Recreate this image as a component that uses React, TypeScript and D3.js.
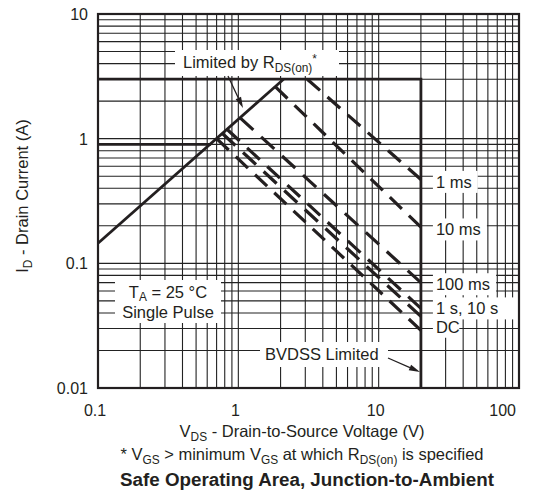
import React from 'react';
import * as d3 from 'd3';

const W = 537;
const H = 495;

const xTicks = [0.1, 1, 10, 100];
const xTickLabels = ['0.1', '1', '10', '100'];
const yTicks = [0.01, 0.1, 1, 10];
const yTickLabels = ['0.01', '0.1', '1', '10'];

// R_DS(on) limit line
const rdsV = [0.1, 2.1];
const rdsI = [0.145, 3.0];
// max current / BVDSS outline
const outlineV = [0.1, 20, 20];
const outlineI = [3, 3, 0.01];
// continuous current
const contV = [0.1, 0.64];
const contI = [0.9, 0.9];

// single pulse curves (start on the Rds line, end at BVDSS)
const pulseNames = ['1 ms', '10 ms', '100 ms', '1 s', '10 s', 'DC'];
const pulseStartV = [3.1, 1.84, 1.03, 0.83, 0.77, 0.7];
const pulseStartI = [3.0, 2.6, 1.47, 1.19, 1.1, 1.0];
const pulseEndV = [20, 20, 20, 20, 20, 20];
const pulseEndI = [0.47, 0.195, 0.07, 0.0435, 0.0375, 0.029];

const curveLabels = ['1 ms', '10 ms', '100 ms', '1 s, 10 s', 'DC'];
const curveLabelI = [0.45, 0.187, 0.068, 0.0435, 0.031];

const FONT = '"Liberation Sans", Arial, Helvetica, sans-serif';
const INK = '#231f20';

const x = d3.scaleLog().domain([0.1, 100]).range([98, 519]);
const y = d3.scaleLog().domain([0.01, 10]).range([388, 14]);
const line = d3.line<[number, number]>().x(d => x(d[0])).y(d => y(d[1]));

const zip = (a: number[], b: number[]) => a.map((v, i) => [v, b[i]] as [number, number]);

const gridVals = (lo: number, hi: number) => {
  const out: number[] = [];
  for (let d = lo; d < hi * 0.999; d *= 10) {
    for (let m = 1; m <= 9; m++) out.push(d * m);
  }
  out.push(hi);
  return out;
};

// stretch the dash pattern so each curve starts and ends on a dash
const fitDash = (len: number, dash = 17, gap = 10) => {
  const n = Math.max(1, Math.round((len + gap) / (dash + gap)));
  const k = len / (n * dash + (n - 1) * gap);
  return `${dash * k},${gap * k}`;
};

const Sub = ({ children }: { children: string }) => (
  <tspan fontSize="0.72em" dy="4">{children}</tspan>
);

const Arrow = ({ x1, y1, x2, y2 }: { x1: number; y1: number; x2: number; y2: number }) => {
  const a = Math.atan2(y2 - y1, x2 - x1);
  const L = 11, hw = 3;
  const bx = x2 - L * Math.cos(a), by = y2 - L * Math.sin(a);
  const p = `${x2},${y2} ${bx + hw * Math.sin(a)},${by - hw * Math.cos(a)} ${bx - hw * Math.sin(a)},${by + hw * Math.cos(a)}`;
  return (
    <g>
      <line x1={x1} y1={y1} x2={bx} y2={by} stroke={INK} strokeWidth={1.3} />
      <polygon points={p} fill={INK} />
    </g>
  );
};

export default function App() {
  const xs = gridVals(0.1, 100);
  const ys = gridVals(0.01, 10);
  const [x0, x1] = x.range();
  const [y0, y1] = y.range();
  const labelX = x(20) + 15;

  return (
    <svg width={W} height={H} style={{ position: 'absolute', left: 0, top: 0, background: '#fff' }}
      fontFamily={FONT} fill={INK}>
      {/* grid */}
      <g stroke="#222" strokeWidth={1.1}>
        {xs.map((v, i) => <line key={'gx' + i} x1={x(v)} x2={x(v)} y1={y1} y2={y0} />)}
        {ys.map((v, i) => <line key={'gy' + i} x1={x0} x2={x1} y1={y(v)} y2={y(v)} />)}
      </g>

      {/* white label backgrounds */}
      <g fill="#fff">
        <rect x={175} y={50} width={164} height={26} />
        <rect x={115} y={280} width={106} height={43} />
        <rect x={260} y={342} width={128} height={25} />
        {curveLabels.map((t, i) => (
          <rect key={'lb' + i} x={labelX - 3} y={y(curveLabelI[i]) - 11}
            width={t.length * 9.2 + 8} height={22} />
        ))}
      </g>

      <rect x={x0} y={y1} width={x1 - x0} height={y0 - y1} fill="none" stroke={INK} strokeWidth={2.2} />

      {/* limit lines */}
      <g fill="none" stroke={INK} strokeWidth={2.8}>
        <path d={line(zip(rdsV, rdsI)) || ''} />
        <path d={line(zip(outlineV, outlineI)) || ''} />
        <path d={line(zip(contV, contI)) || ''} />
      </g>
      <g fill="none" stroke={INK} strokeWidth={3.2}>
        {pulseNames.map((n, i) => {
          const len = Math.hypot(x(pulseEndV[i]) - x(pulseStartV[i]), y(pulseEndI[i]) - y(pulseStartI[i]));
          return (
            <path key={n} strokeDasharray={fitDash(len)}
              d={line([[pulseStartV[i], pulseStartI[i]], [pulseEndV[i], pulseEndI[i]]]) || ''} />
          );
        })}
      </g>

      <Arrow x1={228} y1={76} x2={243} y2={108} />
      <Arrow x1={388} y1={358} x2={420} y2={372} />

      {/* annotations */}
      <g fontSize={16.5}>
        <text x={183} y={68}>Limited by R<Sub>DS(on)</Sub><tspan dy="-9" fontSize="0.72em">*</tspan></text>
        <text x={168} y={298} textAnchor="middle">T<tspan fontSize="0.72em" dy="3">A</tspan><tspan dy="-3"> = 25 °C</tspan></text>
        <text x={168} y={318} textAnchor="middle">Single Pulse</text>
        <text x={265} y={360}>BVDSS Limited</text>
        {curveLabels.map((t, i) => (
          <text key={'cl' + i} x={labelX} y={y(curveLabelI[i]) + 6}>{t}</text>
        ))}
      </g>

      {/* axes labels */}
      <g fontSize={16}>
        {xTicks.map((v, i) => (
          <text key={'xt' + i} x={x(v) - 3} y={416}
            textAnchor={i === 3 ? 'end' : 'middle'}>{xTickLabels[i]}</text>
        ))}
        {yTicks.map((v, i) => (
          <text key={'yt' + i} x={88} y={y(v) + 6} textAnchor="end">{yTickLabels[i]}</text>
        ))}
      </g>
      <g fontSize={16.5} textAnchor="middle">
        <text x={302} y={437}>V<Sub>DS</Sub><tspan dy="-4"> - Drain-to-Source Voltage (V)</tspan></text>
        <text x={302} y={460}>* V<Sub>GS</Sub><tspan dy="-4"> &gt; minimum V</tspan><Sub>GS</Sub><tspan dy="-4"> at which R</tspan><Sub>DS(on)</Sub><tspan dy="-4"> is specified</tspan></text>
        <text transform="translate(28,196) rotate(-90)">I<Sub>D</Sub><tspan dy="-4"> - Drain Current (A)</tspan></text>
        <text x={307} y={486} fontWeight="bold" fontSize={18.8}>Safe Operating Area, Junction-to-Ambient</text>
      </g>
    </svg>
  );
}
